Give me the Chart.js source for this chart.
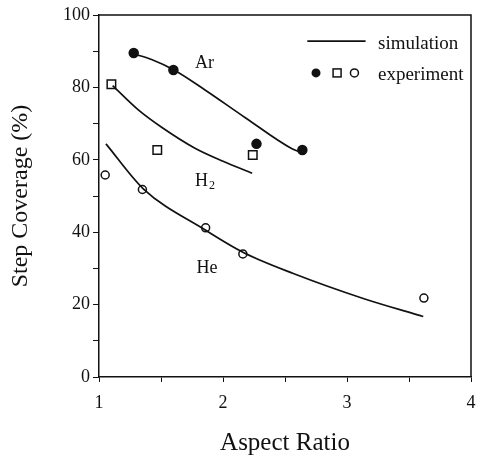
<!DOCTYPE html>
<html>
<head>
<meta charset="utf-8">
<script src="https://cdn.jsdelivr.net/npm/chart.js@4"></script>
<style>
  html, body { margin: 0; padding: 0; background: #fff; }
  #wrap { width: 481px; height: 459px; }
</style>
</head>
<body>
<div id="wrap"><canvas id="chart" width="481" height="459"></canvas></div>
<script>
// Experiment points (aspect ratio, step coverage %)
const arExpX = [1.28, 1.60, 2.27, 2.64];
const arExpY = [89.5, 84.8, 64.4, 62.7];
const h2ExpX = [1.10, 1.47, 2.24];
const h2ExpY = [80.9, 62.7, 61.3];
const heExpX = [1.05, 1.35, 1.86, 2.16, 3.62];
const heExpY = [55.8, 51.8, 41.2, 34.0, 21.8];

// Simulation curves
const arSimX = [1.285, 1.424, 1.605, 1.855, 2.177, 2.553, 2.63];
const arSimY = [89.2, 87.7, 84.8, 79.3, 71.7, 63.1, 62.0];
const h2SimX = [1.11, 1.317, 1.505, 1.774, 2.0, 2.235];
const h2SimY = [80.5, 73.8, 69.0, 63.2, 59.6, 56.3];
const heSimX = [1.056, 1.357, 1.857, 2.164, 2.567, 3.131, 3.615];
const heSimY = [64.4, 52.0, 40.6, 34.4, 28.6, 21.7, 16.7];

const xTicks = [1, 2, 3, 4];
const yTicks = [0, 20, 40, 60, 80, 100];

const serif = "'Liberation Serif', 'DejaVu Serif', serif";

function pts(xs, ys) {
  return xs.map((x, i) => ({ x: x, y: ys[i] }));
}

function simSet(xs, ys) {
  return {
    data: pts(xs, ys),
    showLine: true,
    borderColor: "#111",
    borderWidth: 1.7,
    pointRadius: 0,
    cubicInterpolationMode: "monotone",
    fill: false,
  };
}

function expSet(xs, ys, style, filled, r) {
  return {
    data: pts(xs, ys),
    showLine: false,
    pointStyle: style,
    pointRadius: r,
    pointBorderWidth: 1.5,
    pointBorderColor: "#111",
    pointBackgroundColor: filled ? "#111" : "#fff",
  };
}

// text labels placed in data units
const curveLabels = [
  { text: "Ar", x: 1.85, y: 86.7 },
  { text: "H", sub: "2", x: 1.85, y: 54.1 },
  { text: "He", x: 1.87, y: 30.1 },
];

const overlay = {
  id: "overlay",
  afterDraw(chart) {
    const ctx = chart.ctx;
    const xs = chart.scales.x;
    const ys = chart.scales.y;
    const a = chart.chartArea;
    ctx.save();
    // top and right frame
    ctx.strokeStyle = "#111";
    ctx.lineWidth = 1.5;
    ctx.beginPath();
    ctx.moveTo(a.left, a.top);
    ctx.lineTo(a.right, a.top);
    ctx.lineTo(a.right, a.bottom);
    ctx.stroke();

    ctx.fillStyle = "#111";
    ctx.textBaseline = "middle";
    ctx.font = "18px " + serif;
    curveLabels.forEach((l) => {
      const px = xs.getPixelForValue(l.x);
      const py = ys.getPixelForValue(l.y);
      if (l.sub) {
        const w = ctx.measureText(l.text).width;
        ctx.textAlign = "left";
        ctx.fillText(l.text, px - w / 2 - 3, py);
        ctx.font = "12px " + serif;
        ctx.fillText(l.sub, px + w / 2 - 2, py + 5);
        ctx.font = "18px " + serif;
      } else {
        ctx.textAlign = "center";
        ctx.fillText(l.text, px, py);
      }
    });

    // legend
    const ly1 = ys.getPixelForValue(92.8);
    ctx.lineWidth = 1.7;
    ctx.beginPath();
    ctx.moveTo(xs.getPixelForValue(2.68), ly1);
    ctx.lineTo(xs.getPixelForValue(3.15), ly1);
    ctx.stroke();
    ctx.textAlign = "left";
    ctx.font = "19px " + serif;
    const tx = xs.getPixelForValue(3.25);
    ctx.fillText("simulation", tx, ly1 + 3);
    const ly2 = ys.getPixelForValue(84.0);
    ctx.lineWidth = 1.5;
    ctx.beginPath();
    ctx.arc(xs.getPixelForValue(2.75), ly2, 4.5, 0, Math.PI * 2);
    ctx.fill();
    ctx.strokeRect(xs.getPixelForValue(2.92) - 4, ly2 - 4, 8, 8);
    ctx.beginPath();
    ctx.arc(xs.getPixelForValue(3.06), ly2, 4, 0, Math.PI * 2);
    ctx.stroke();
    ctx.fillText("experiment", tx, ly2 + 2);
    ctx.restore();
  },
};

new Chart(document.getElementById("chart").getContext("2d"), {
  type: "scatter",
  data: {
    datasets: [
      simSet(arSimX, arSimY),
      simSet(h2SimX, h2SimY),
      simSet(heSimX, heSimY),
      expSet(arExpX, arExpY, "circle", true, 4.5),
      expSet(h2ExpX, h2ExpY, "rect", false, 6),
      expSet(heExpX, heExpY, "circle", false, 4),
    ],
  },
  options: {
    responsive: false,
    animation: false,
    layout: { padding: { top: 15, right: 10, left: 0, bottom: 0 } },
    plugins: { legend: { display: false }, tooltip: { enabled: false } },
    scales: {
      x: {
        type: "linear",
        min: 1,
        max: 4,
        afterFit(scale) {
          scale.height = 82;
          scale.paddingLeft = 0;
          scale.paddingRight = 0;
        },
        border: { color: "#111", width: 1.5 },
        grid: { drawOnChartArea: false, color: "#111", tickLength: 5 },
        ticks: {
          stepSize: 0.5,
          color: "#111",
          padding: 10,
          maxRotation: 0,
          font: { family: serif, size: 18 },
          callback: (v) => (xTicks.includes(v) ? String(v) : ""),
        },
        title: {
          display: true,
          text: "Aspect Ratio",
          color: "#111",
          font: { family: serif, size: 25 },
          padding: { top: 0, bottom: 1 },
        },
      },
      y: {
        type: "linear",
        min: 0,
        max: 100,
        afterFit(scale) {
          scale.width = 99;
          scale.paddingTop = 0;
          scale.paddingBottom = 0;
        },
        border: { color: "#111", width: 1.5 },
        grid: { drawOnChartArea: false, color: "#111", tickLength: 6 },
        ticks: {
          stepSize: 10,
          color: "#111",
          padding: 3,
          font: { family: serif, size: 18 },
          callback: (v) => (yTicks.includes(v) ? String(v) : ""),
        },
        title: {
          display: true,
          text: "Step Coverage (%)",
          color: "#111",
          font: { family: serif, size: 24 },
          padding: { top: 6, bottom: 0 },
        },
      },
    },
  },
  plugins: [overlay],
});
</script>
</body>
</html>
